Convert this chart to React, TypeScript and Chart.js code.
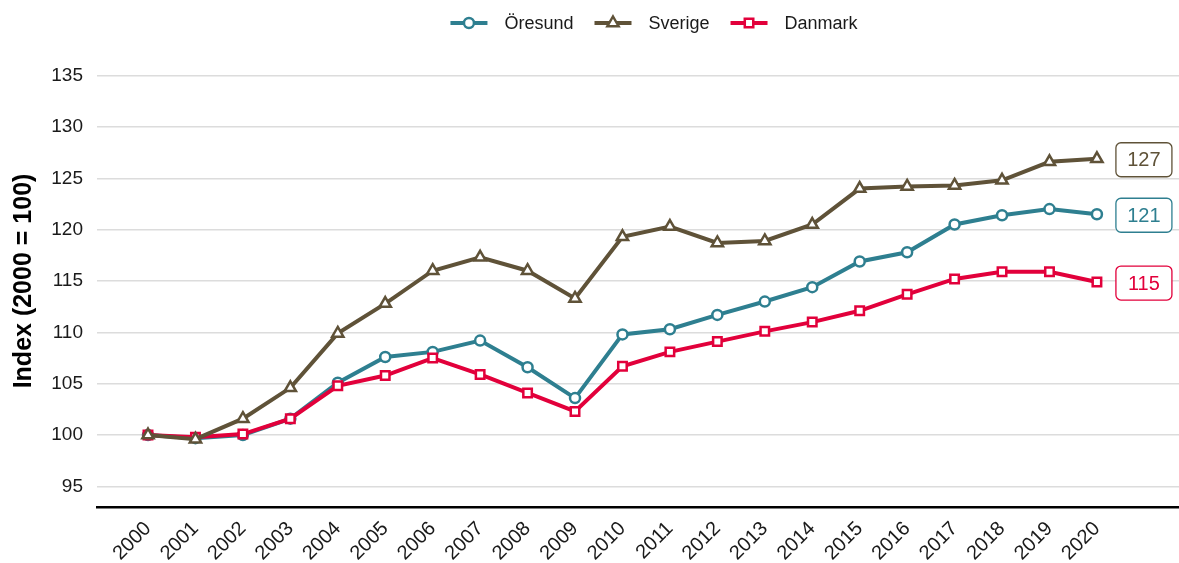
import React, { useEffect, useRef } from "react";
import { Chart, registerables } from "chart.js";

Chart.register(...registerables);

const years = [2000, 2001, 2002, 2003, 2004, 2005, 2006, 2007, 2008, 2009, 2010, 2011, 2012, 2013, 2014, 2015, 2016, 2017, 2018, 2019, 2020];
const oresund = [100, 99.7, 100.0, 101.6, 105.1, 107.6, 108.1, 109.2, 106.6, 103.6, 109.8, 110.3, 111.7, 113.0, 114.4, 116.9, 117.8, 120.5, 121.4, 122.0, 121.5];
const sverige = [100, 99.6, 101.6, 104.6, 109.9, 112.8, 116.0, 117.3, 116.0, 113.3, 119.3, 120.3, 118.7, 118.9, 120.5, 124.0, 124.2, 124.3, 124.8, 126.6, 126.9];
const danmark = [100, 99.8, 100.1, 101.6, 104.8, 105.8, 107.5, 105.9, 104.1, 102.3, 106.7, 108.1, 109.1, 110.1, 111.0, 112.1, 113.7, 115.2, 115.9, 115.9, 114.9];
const yTicks = [95, 100, 105, 110, 115, 120, 125, 130, 135];
const seriesNames = ["Öresund", "Sverige", "Danmark"];
const endLabels = ["121", "127", "115"];

const COLORS = ["#2e7f90", "#5f5238", "#e2003b"];
const STYLES = ["circle", "triangle", "rect"];
const RADII = [5, 6.5, 6];
const FONT = "'Liberation Sans', Arial, sans-serif";

function drawMarker(ctx: CanvasRenderingContext2D, style: string, r: number, x: number, y: number) {
  ctx.beginPath();
  if (style === "circle") {
    ctx.arc(x, y, r, 0, Math.PI * 2);
  } else if (style === "triangle") {
    for (let k = 0; k < 3; k++) {
      const a = -Math.PI / 2 + (k * 2 * Math.PI) / 3;
      const px = x + Math.cos(a) * r;
      const py = y + Math.sin(a) * r;
      if (k === 0) ctx.moveTo(px, py);
      else ctx.lineTo(px, py);
    }
    ctx.closePath();
  } else {
    const s = r * Math.SQRT1_2;
    ctx.rect(x - s, y - s, 2 * s, 2 * s);
  }
  ctx.fill();
  ctx.stroke();
}

const legendPlugin = {
  id: "customLegend",
  afterDraw(chart: any) {
    const ctx = chart.ctx;
    ctx.save();
    ctx.font = `18px ${FONT}`;
    const markerW = 37;
    const gapMT = 17;
    const gapItem = 21;
    const widths = seriesNames.map((n) => markerW + gapMT + ctx.measureText(n).width);
    const total = widths.reduce((a, b) => a + b, 0) + gapItem * (widths.length - 1);
    let x = 654 - total / 2;
    const y = 23;
    seriesNames.forEach((name, i) => {
      ctx.strokeStyle = COLORS[i];
      ctx.lineWidth = 4;
      ctx.beginPath();
      ctx.moveTo(x, y);
      ctx.lineTo(x + markerW, y);
      ctx.stroke();
      ctx.fillStyle = "#fff";
      ctx.lineWidth = 2.5;
      drawMarker(ctx, STYLES[i], RADII[i], x + markerW / 2, y);
      ctx.fillStyle = "#1a1a1a";
      ctx.textBaseline = "middle";
      ctx.textAlign = "left";
      ctx.fillText(name, x + markerW + gapMT, y + 1);
      x += widths[i] + gapItem;
    });
    ctx.restore();
  },
};

const endLabelPlugin = {
  id: "endLabels",
  afterDatasetsDraw(chart: any) {
    const ctx = chart.ctx;
    const xs = chart.scales.x;
    const ys = chart.scales.y;
    ctx.save();
    ctx.font = `20px ${FONT}`;
    chart.data.datasets.forEach((ds: any, i: number) => {
      const last = ds.data[ds.data.length - 1];
      const cx = xs.getPixelForValue(last.x) + 47;
      const cy = ys.getPixelForValue(last.y) + 1;
      const w = 56;
      const h = 34;
      ctx.fillStyle = "#fff";
      ctx.strokeStyle = ds.borderColor;
      ctx.lineWidth = 1.3;
      ctx.beginPath();
      (ctx as any).roundRect(cx - w / 2, cy - h / 2, w, h, 5);
      ctx.fill();
      ctx.stroke();
      ctx.fillStyle = ds.borderColor;
      ctx.textAlign = "center";
      ctx.textBaseline = "middle";
      ctx.fillText(endLabels[i], cx, cy + 1);
    });
    ctx.restore();
  },
};

export default function App() {
  const ref = useRef<HTMLCanvasElement>(null);
  useEffect(() => {
    if (!ref.current) return;
    const seriesData = [oresund, sverige, danmark];
    const orders = [2, 0, 1];
    const chart = new Chart(ref.current, {
      type: "line",
      data: {
        datasets: seriesData.map((arr, i) => ({
          label: seriesNames[i],
          data: arr.map((v, k) => ({ x: years[k], y: v })),
          borderColor: COLORS[i],
          backgroundColor: "#ffffff",
          borderWidth: 4,
          pointStyle: STYLES[i] as any,
          pointRadius: RADII[i],
          pointBorderWidth: 2.5,
          pointBackgroundColor: "#ffffff",
          pointBorderColor: COLORS[i],
          order: orders[i],
          tension: 0,
          clip: false as any,
        })),
      },
      options: {
        animation: false,
        responsive: false,
        maintainAspectRatio: false,
        layout: { autoPadding: false, padding: { top: 55, right: 0, left: 0, bottom: 0 } },
        plugins: {
          legend: { display: false },
          tooltip: { enabled: false },
        },
        scales: {
          x: {
            type: "linear",
            min: 1998.925,
            max: 2021.73,
            afterBuildTicks: (s: any) => {
              s.ticks = years.map((v) => ({ value: v }));
            },
            afterFit: (s: any) => {
              s.height = 56;
            },
            grid: { display: false },
            border: { display: true, color: "#000000", width: 2.5 },
            ticks: {
              autoSkip: false,
              maxRotation: 45,
              minRotation: 45,
              color: "#1a1a1a",
              font: { family: FONT, size: 20 },
              padding: 2,
              callback: (v: any) => String(v),
            },
          },
          y: {
            min: 93,
            max: 137,
            afterBuildTicks: (s: any) => {
              s.ticks = yTicks.map((v) => ({ value: v }));
            },
            afterFit: (s: any) => {
              s.width = 97;
            },
            grid: { color: "#dcdcdc", lineWidth: 1.5, drawTicks: false },
            border: { display: false },
            title: {
              display: true,
              text: "Index (2000 = 100)",
              color: "#000000",
              font: { family: FONT, size: 25, weight: "bold" },
              padding: { top: 9, bottom: 0 },
            },
            ticks: {
              color: "#1a1a1a",
              font: { family: FONT, size: 19 },
              padding: 14,
            },
          },
        },
      },
      plugins: [legendPlugin, endLabelPlugin],
    } as any);
    return () => chart.destroy();
  }, []);
  return (
    <div style={{ position: "fixed", left: 0, top: 0, width: 1179, height: 563, background: "#fff" }}>
      <canvas ref={ref} width={1179} height={563} style={{ width: 1179, height: 563 }} />
    </div>
  );
}
